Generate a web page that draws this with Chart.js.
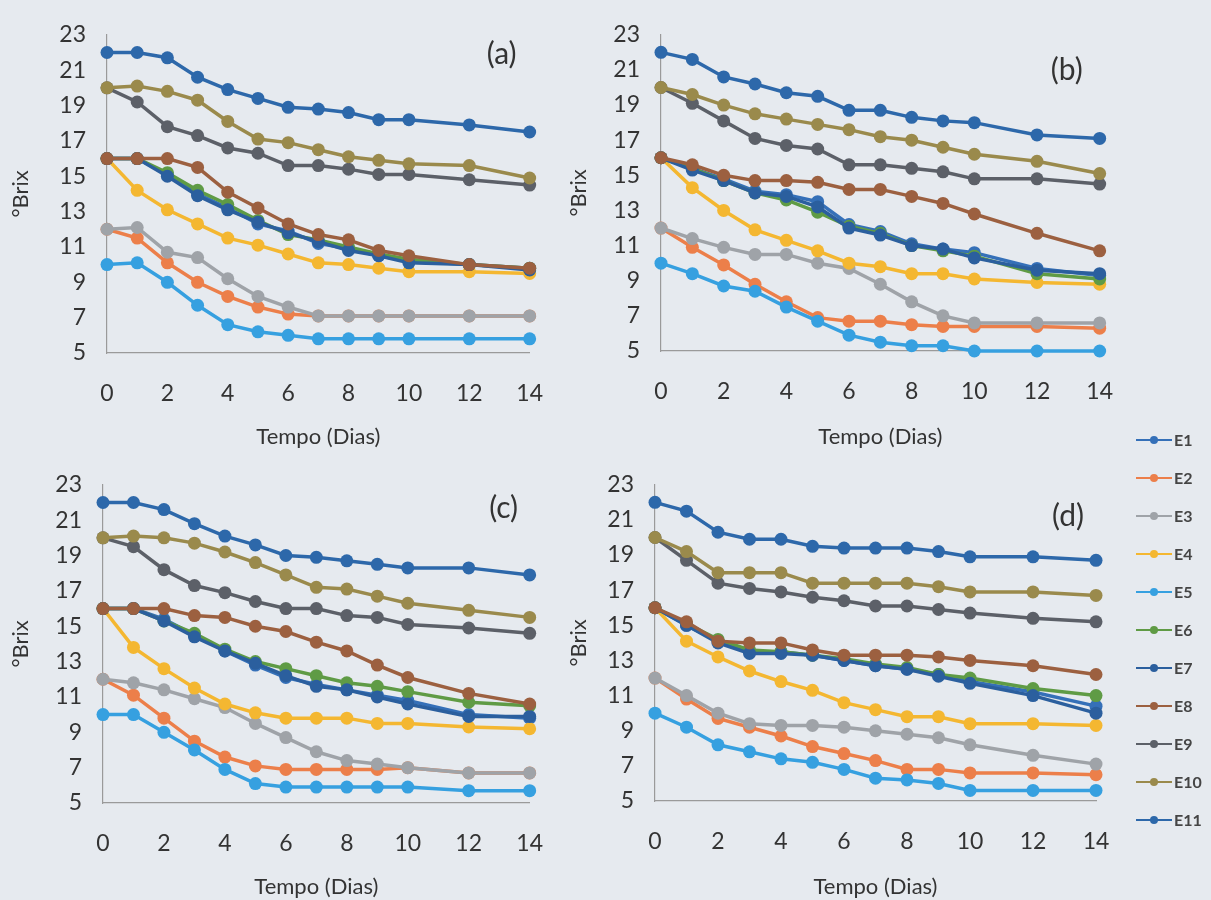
<!DOCTYPE html>
<html>
<head>
<meta charset="utf-8">
<script src="https://cdn.jsdelivr.net/npm/chart.js@4.4.1/dist/chart.umd.min.js"></script>
<style>
  body { margin: 0; background: #e6eaef; }
  #wrap { position: relative; width: 1211px; height: 900px; overflow: hidden; }
  canvas { position: absolute; }
  #legend { position: absolute; left: 1136px; top: 0; font-family: Lato, sans-serif; }
  .item { position: absolute; left: 0; height: 20px; width: 70px; }
  .item .ln { position: absolute; left: 0; top: 9px; width: 36px; height: 2px; }
  .item .dot { position: absolute; left: 14px; top: 6px; width: 8px; height: 8px; border-radius: 50%; }
  .item .tx { position: absolute; left: 38px; top: 0; font-size: 16px; line-height: 20px; color: #454545; font-weight: bold; }
</style>
</head>
<body>
<div id="wrap">
  <canvas id="chartA" width="570" height="450" style="left:0;top:0"></canvas>
  <canvas id="chartB" width="580" height="450" style="left:560px;top:0"></canvas>
  <canvas id="chartC" width="570" height="450" style="left:0;top:450px"></canvas>
  <canvas id="chartD" width="580" height="450" style="left:560px;top:450px"></canvas>
  <div id="legend"></div>
</div>
<script>
// sampling days
const days = [0, 1, 2, 3, 4, 5, 6, 7, 8, 9, 10, 12, 14];
const seriesNames = ['E1', 'E2', 'E3', 'E4', 'E5', 'E6', 'E7', 'E8', 'E9', 'E10', 'E11'];
const seriesColors = ['#3570b8', '#ec7f4a', '#9fa3a8', '#f4b731', '#36a0e0', '#5f9b45',
                      '#2b5f9e', '#9c6040', '#5c6068', '#9a8a4c', '#2d68aa'];
const yTicks = [5, 7, 9, 11, 13, 15, 17, 19, 21, 23];
const xTicks = [0, 2, 4, 6, 8, 10, 12, 14];

// °Brix, one row per series E1..E11
const brixA = [
  [16, 16, 15.1, 14.0, 13.2, 12.3, 11.9, 11.2, 10.9, 10.5, 10.2, 10.0, 9.8],
  [12, 11.5, 10.1, 9.0, 8.2, 7.6, 7.2, 7.1, 7.1, 7.1, 7.1, 7.1, 7.1],
  [12, 12.1, 10.7, 10.4, 9.2, 8.2, 7.6, 7.1, 7.1, 7.1, 7.1, 7.1, 7.1],
  [16, 14.2, 13.1, 12.3, 11.5, 11.1, 10.6, 10.1, 10.0, 9.8, 9.6, 9.6, 9.5],
  [10, 10.1, 9.0, 7.7, 6.6, 6.2, 6.0, 5.8, 5.8, 5.8, 5.8, 5.8, 5.8],
  [16, 16, 15.2, 14.2, 13.4, 12.5, 11.7, 11.4, 11.0, 10.6, 10.3, 10.0, 9.8],
  [16, 16, 15.0, 13.9, 13.1, 12.4, 11.8, 11.3, 10.8, 10.5, 10.1, 10.0, 9.7],
  [16, 16, 16, 15.5, 14.1, 13.2, 12.3, 11.7, 11.4, 10.8, 10.5, 10.0, 9.8],
  [20, 19.2, 17.8, 17.3, 16.6, 16.3, 15.6, 15.6, 15.4, 15.1, 15.1, 14.8, 14.5],
  [20, 20.1, 19.8, 19.3, 18.1, 17.1, 16.9, 16.5, 16.1, 15.9, 15.7, 15.6, 14.9],
  [22, 22, 21.7, 20.6, 19.9, 19.4, 18.9, 18.8, 18.6, 18.2, 18.2, 17.9, 17.5]
];
const brixB = [
  [16, 15.4, 14.8, 14.1, 13.9, 13.5, 12.2, 11.8, 11.1, 10.8, 10.6, 9.7, 9.3],
  [12, 10.9, 9.9, 8.8, 7.8, 6.9, 6.7, 6.7, 6.5, 6.4, 6.4, 6.4, 6.3],
  [12, 11.4, 10.9, 10.5, 10.5, 10.0, 9.7, 8.8, 7.8, 7.0, 6.6, 6.6, 6.6],
  [16, 14.3, 13.0, 11.9, 11.3, 10.7, 10.0, 9.8, 9.4, 9.4, 9.1, 8.9, 8.8],
  [10, 9.4, 8.7, 8.4, 7.5, 6.7, 5.9, 5.5, 5.3, 5.3, 5.0, 5.0, 5.0],
  [16, 15.4, 14.7, 14.0, 13.6, 12.9, 12.1, 11.7, 11.0, 10.7, 10.4, 9.4, 9.1],
  [16, 15.3, 14.7, 14.0, 13.8, 13.2, 12.0, 11.6, 11.0, 10.8, 10.3, 9.6, 9.4],
  [16, 15.6, 15.0, 14.7, 14.7, 14.6, 14.2, 14.2, 13.8, 13.4, 12.8, 11.7, 10.7],
  [20, 19.1, 18.1, 17.1, 16.7, 16.5, 15.6, 15.6, 15.4, 15.2, 14.8, 14.8, 14.5],
  [20, 19.6, 19.0, 18.5, 18.2, 17.9, 17.6, 17.2, 17.0, 16.6, 16.2, 15.8, 15.1],
  [22, 21.6, 20.6, 20.2, 19.7, 19.5, 18.7, 18.7, 18.3, 18.1, 18.0, 17.3, 17.1]
];
const brixC = [
  [16, 16, 15.4, 14.5, 13.6, 12.8, 12.1, 11.7, 11.4, 11.1, 10.8, 10.0, 9.8],
  [12, 11.1, 9.8, 8.5, 7.6, 7.1, 6.9, 6.9, 6.9, 6.9, 7.0, 6.7, 6.7],
  [12, 11.8, 11.4, 10.9, 10.4, 9.5, 8.7, 7.9, 7.4, 7.2, 7.0, 6.7, 6.7],
  [16, 13.8, 12.6, 11.5, 10.6, 10.1, 9.8, 9.8, 9.8, 9.5, 9.5, 9.3, 9.2],
  [10, 10, 9.0, 8.0, 6.9, 6.1, 5.9, 5.9, 5.9, 5.9, 5.9, 5.7, 5.7],
  [16, 16, 15.3, 14.6, 13.7, 13.0, 12.6, 12.2, 11.8, 11.6, 11.3, 10.7, 10.5],
  [16, 16, 15.3, 14.4, 13.6, 12.9, 12.2, 11.6, 11.4, 11.0, 10.6, 9.9, 9.9],
  [16, 16, 16, 15.6, 15.5, 15.0, 14.7, 14.1, 13.6, 12.8, 12.1, 11.2, 10.6],
  [20, 19.5, 18.2, 17.3, 16.9, 16.4, 16.0, 16.0, 15.6, 15.5, 15.1, 14.9, 14.6],
  [20, 20.1, 20.0, 19.7, 19.2, 18.6, 17.9, 17.2, 17.1, 16.7, 16.3, 15.9, 15.5],
  [22, 22, 21.6, 20.8, 20.1, 19.6, 19.0, 18.9, 18.7, 18.5, 18.3, 18.3, 17.9]
];
const brixD = [
  [16, 15.0, 14.1, 13.5, 13.5, 13.3, 13.0, 12.7, 12.5, 12.2, 11.8, 11.2, 10.4],
  [12, 10.8, 9.7, 9.2, 8.7, 8.1, 7.7, 7.3, 6.8, 6.8, 6.6, 6.6, 6.5],
  [12, 11.0, 10.0, 9.4, 9.3, 9.3, 9.2, 9.0, 8.8, 8.6, 8.2, 7.6, 7.1],
  [16, 14.1, 13.2, 12.4, 11.8, 11.3, 10.6, 10.2, 9.8, 9.8, 9.4, 9.4, 9.3],
  [10, 9.2, 8.2, 7.8, 7.4, 7.2, 6.8, 6.3, 6.2, 6.0, 5.6, 5.6, 5.6],
  [16, 15.1, 14.2, 13.6, 13.5, 13.3, 13.1, 12.8, 12.6, 12.2, 12.0, 11.4, 11.0],
  [16, 15.0, 14.0, 13.4, 13.4, 13.3, 13.0, 12.7, 12.5, 12.1, 11.7, 11.0, 10.0],
  [16, 15.2, 14.1, 14.0, 14.0, 13.6, 13.3, 13.3, 13.3, 13.2, 13.0, 12.7, 12.2],
  [20, 18.7, 17.4, 17.1, 16.9, 16.6, 16.4, 16.1, 16.1, 15.9, 15.7, 15.4, 15.2],
  [20, 19.2, 18.0, 18.0, 18.0, 17.4, 17.4, 17.4, 17.4, 17.2, 16.9, 16.9, 16.7],
  [22, 21.5, 20.3, 19.9, 19.9, 19.5, 19.4, 19.4, 19.4, 19.2, 18.9, 18.9, 18.7]
];

Chart.defaults.font.family = 'Lato, "Open Sans", sans-serif';
Chart.defaults.color = '#333333';

// draws "(a)", "(b)"... inside the plot area
const panelLabel = {
  id: 'panelLabel',
  afterDraw(chart, args, opts) {
    const {ctx, chartArea} = chart;
    ctx.save();
    ctx.font = '30px Lato, sans-serif';
    ctx.fillStyle = '#333';
    ctx.textAlign = 'center';
    ctx.textBaseline = 'middle';
    ctx.fillText(opts.text, chartArea.right - opts.dx, chartArea.top + opts.dy);
    ctx.restore();
  }
};

function makePanel(id, rows, label, box) {
  const datasets = rows.map((vals, i) => ({
    label: seriesNames[i],
    data: days.map((d, k) => ({x: d, y: vals[k]})),
    borderColor: seriesColors[i],
    backgroundColor: seriesColors[i],
    borderWidth: 3.5,
    pointRadius: 6.5,
    pointBorderWidth: 0,
    tension: 0,
    clip: false,
    order: rows.length - i
  }));
  return new Chart(document.getElementById(id), {
    type: 'line',
    data: {datasets: datasets},
    plugins: [panelLabel],
    options: {
      responsive: false,
      animation: false,
      layout: {padding: {top: box.top, right: box.right, left: 0, bottom: 0}},
      plugins: {
        legend: {display: false},
        tooltip: {enabled: false},
        panelLabel: {text: label, dx: box.lx, dy: box.ly}
      },
      scales: {
        x: {
          type: 'linear', min: 0, max: 14,
          afterBuildTicks: s => { s.ticks = xTicks.map(v => ({value: v})); },
          afterFit: s => { s.height = box.xh; },
          grid: {display: false, drawTicks: false},
          border: {display: true, color: '#9a9a9a', width: 1.2},
          ticks: {font: {size: 23}, padding: 27, maxRotation: 0},
          title: {display: true, text: 'Tempo (Dias)', font: {size: 22}, padding: {top: 0, bottom: 0}}
        },
        y: {
          type: 'linear', min: 5, max: 23,
          afterBuildTicks: s => { s.ticks = yTicks.map(v => ({value: v})); },
          afterFit: s => { s.width = box.yw; },
          grid: {display: false, drawTicks: false},
          border: {display: true, color: '#9a9a9a', width: 1.2},
          ticks: {font: {size: 23}, padding: 21},
          title: {display: true, text: '°Brix', font: {size: 22}, padding: {top: box.tp, bottom: 0}}
        }
      }
    }
  });
}

makePanel('chartA', brixA, '(a)', {top: 28, right: 22, xh: 97, yw: 107, tp: 8, lx: 28, ly: 20});
makePanel('chartB', brixB, '(b)', {top: 28, right: 38, xh: 99, yw: 101, tp: 6, lx: 33, ly: 36});
makePanel('chartC', brixC, '(c)', {top: 29, right: 26, xh: 97, yw: 103, tp: 8, lx: 26, ly: 24});
makePanel('chartD', brixD, '(d)', {top: 27, right: 44, xh: 99, yw: 95, tp: 6, lx: 28, ly: 32});

// legend on the right side
const legend = document.getElementById('legend');
seriesNames.forEach((name, i) => {
  const el = document.createElement('div');
  el.className = 'item';
  el.style.top = (430 + i * 38) + 'px';
  el.innerHTML = '<div class="ln" style="background:' + seriesColors[i] + '"></div>' +
                 '<div class="dot" style="background:' + seriesColors[i] + '"></div>' +
                 '<div class="tx">' + name + '</div>';
  legend.appendChild(el);
});
</script>
</body>
</html>
